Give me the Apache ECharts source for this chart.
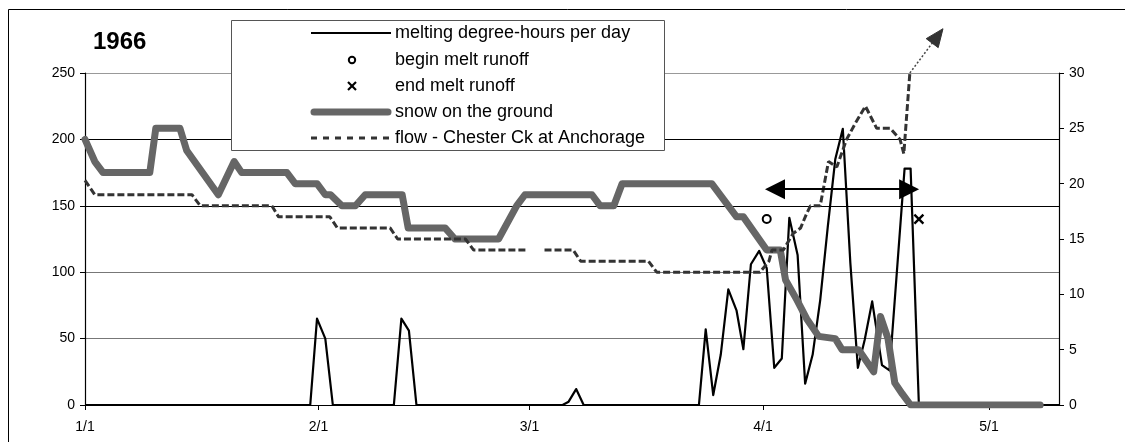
<!DOCTYPE html>
<html><head><meta charset="utf-8">
<script src="https://cdn.jsdelivr.net/npm/echarts@6/dist/echarts.min.js"></script>
<style>html,body{margin:0;padding:0;background:#fff}#c{width:1125px;height:442px}</style>
</head><body><div id="c"></div>
<script>
// ---- data (x = day of year from 1/1, 0-based) ----
const chartTitle = '1966';
const monthTickDays = [0, 31, 59, 90, 120];
const monthTickLabels = ['1/1', '2/1', '3/1', '4/1', '5/1'];
const seriesNames = ['melting degree-hours per day', 'begin melt runoff', 'end melt runoff',
  'snow on the ground', 'flow - Chester Ck at Anchorage'];

// melting degree-hours per day (left axis)
const meltDegreeHours = [
  [0, 0], [29.9, 0], [30.8, 65], [31.9, 50], [32.9, 0],
  [41.0, 0], [42.0, 65], [43.0, 56], [44.0, 0],
  [63.4, 0], [64.2, 2.5], [65.2, 12], [66.2, 0],
  [81.5, 0], [82.4, 57], [83.4, 7.5], [84.4, 38], [85.4, 87], [86.5, 71], [87.4, 42],
  [88.4, 106], [89.5, 116], [90.5, 103], [91.5, 28], [92.5, 35], [93.5, 141], [94.6, 113],
  [95.6, 16], [96.6, 38], [97.6, 79], [98.6, 134], [99.6, 185], [100.6, 208], [101.6, 107],
  [102.6, 28], [103.5, 49], [104.5, 78], [105.8, 30], [106.8, 26], [108.8, 178], [109.6, 178],
  [110.7, 0], [129.3, 0]
];
// snow on the ground (right axis)
const snowOnGround = [
  [0, 24], [1.3, 22], [2.4, 21], [8.6, 21], [9.4, 25], [12.6, 25], [13.5, 23], [17.7, 19],
  [19.8, 22], [20.8, 21], [26.8, 21], [27.9, 20], [30.8, 20], [31.9, 19], [32.6, 19], [34.1, 18],
  [35.9, 18], [37.2, 19], [42.1, 19], [42.9, 16], [47.8, 16], [49.1, 15], [54.9, 15], [57.3, 18],
  [58.4, 19], [67.3, 19], [68.4, 18], [70.2, 18], [71.3, 20], [83.2, 20], [86.5, 17], [87.4, 17],
  [90.5, 14], [92.3, 14], [93.0, 11.3], [94.5, 9.5], [95.8, 7.8], [97.4, 6.2], [99.6, 6],
  [100.5, 5], [102.7, 5], [104.7, 3], [105.6, 8], [106.6, 6], [107.5, 2], [108.5, 1],
  [109.6, 0], [126.8, 0]
];
// flow - Chester Ck at Anchorage (right axis)
const flowChester = [
  [0, 20.3], [1.3, 19], [14.2, 19], [15.3, 18], [24.8, 18], [25.7, 17], [32.5, 17], [33.5, 16],
  [40.5, 16], [41.5, 15], [50.5, 15], [51.6, 14], [58.6, 14], [59.8, null], [61.0, 14], [64.8, 14],
  [65.8, 13], [74.8, 13], [75.9, 12], [89.6, 12], [90.8, 13], [91.2, 14], [92.7, 14], [94.0, 15.5],
  [95.0, 16], [95.8, 17.3], [96.3, 18], [97.6, 18], [98.7, 22], [99.8, 21.5], [101.1, 24],
  [102.3, 25.5], [103.6, 27], [105.1, 25], [106.9, 25], [108.2, 24], [108.7, 22.7], [109.5, 30]
];
const beginMeltRunoff = [[90.5, 140]];
const endMeltRunoff = [[110.7, 140]];
const runoffSpan = [[91.6, 162.5], [109.4, 162.5]];      // left-axis units
const flowOffScale = [[109.5, 30], [113.9, 34]];         // right-axis units

// ---- chart ----
const FONT = 'Liberation Sans, Arial, sans-serif';
const chart = echarts.init(document.getElementById('c'), null, {renderer: 'canvas'});

const legendRows = [33, 60, 86, 112, 138];
const legendGraphic = [
  {id: 'frame', type: 'rect', silent: true, z: 0, shape: {x: 8.5, y: 9.5, width: 1130, height: 440},
   style: {fill: 'none', stroke: '#000', lineWidth: 1}},
  {id: 'lgBox', type: 'rect', silent: true, z: 50, shape: {x: 231.5, y: 20.5, width: 433, height: 130},
   style: {fill: '#fff', stroke: '#555', lineWidth: 1}},
  {id: 'lg0', type: 'line', z: 51, silent: true, shape: {x1: 311, y1: legendRows[0], x2: 391, y2: legendRows[0]},
   style: {stroke: '#000', lineWidth: 2}},
  {id: 'lg1', type: 'circle', z: 51, silent: true, shape: {cx: 352, cy: legendRows[1], r: 3.2},
   style: {fill: '#fff', stroke: '#000', lineWidth: 2}},
  {id: 'lg2a', type: 'line', z: 51, silent: true, shape: {x1: 348, y1: legendRows[2] - 4, x2: 356, y2: legendRows[2] + 4},
   style: {stroke: '#000', lineWidth: 2.2}},
  {id: 'lg2b', type: 'line', z: 51, silent: true, shape: {x1: 356, y1: legendRows[2] - 4, x2: 348, y2: legendRows[2] + 4},
   style: {stroke: '#000', lineWidth: 2.2}},
  {id: 'lg3', type: 'line', z: 51, silent: true, shape: {x1: 314, y1: legendRows[3], x2: 388, y2: legendRows[3]},
   style: {stroke: '#666', lineWidth: 7, lineCap: 'round'}},
  {id: 'lg4', type: 'line', z: 51, silent: true, shape: {x1: 311, y1: legendRows[4], x2: 393, y2: legendRows[4]},
   style: {stroke: '#333', lineWidth: 3, lineDash: [6, 6]}}
];
seriesNames.forEach((n, i) => {
  legendGraphic.push({id: 'lgt' + i, type: 'text', z: 52, silent: true, x: 395, y: legendRows[i],
    style: {text: n, fill: '#000', font: '18px ' + FONT, textVerticalAlign: 'middle', verticalAlign: 'middle'}});
});

const option = {
  animation: false,
  backgroundColor: '#fff',
  title: {text: chartTitle, left: 93, top: 30, padding: 0,
    textStyle: {fontFamily: FONT, fontSize: 24, fontWeight: 'bold', color: '#000'}},
  grid: {left: 85, right: 66, top: 73, bottom: 37, containLabel: false},
  xAxis: {
    type: 'value', min: 0, max: 129.3,
    axisLine: {show: true, onZero: false, lineStyle: {color: '#000', width: 1}},
    axisTick: {show: true, length: 5, customValues: monthTickDays, lineStyle: {color: '#000'}},
    axisLabel: {customValues: monthTickDays, margin: 15, color: '#000', fontFamily: FONT, fontSize: 14,
      formatter: v => monthTickLabels[monthTickDays.indexOf(v)] || ''},
    splitLine: {show: false}
  },
  yAxis: [
    {type: 'value', min: 0, max: 250, interval: 50,
     axisLine: {show: true, lineStyle: {color: '#000', width: 1.2}},
     axisTick: {show: true, length: 5, lineStyle: {color: '#000'}},
     axisLabel: {margin: 10, color: '#000', fontFamily: FONT, fontSize: 14},
     splitLine: {show: true, lineStyle: {color: ['#000', '#777', '#777', '#000', '#000', '#999'], width: 1}}},
    {type: 'value', min: 0, max: 30, interval: 5, position: 'right',
     axisLine: {show: true, lineStyle: {color: '#000', width: 1.2}},
     axisTick: {show: true, length: 5, lineStyle: {color: '#000'}},
     axisLabel: {margin: 10, color: '#000', fontFamily: FONT, fontSize: 14},
     splitLine: {show: false}}
  ],
  series: [
    {name: seriesNames[0], type: 'line', yAxisIndex: 0, data: meltDegreeHours, showSymbol: false, symbol: 'none',
     lineStyle: {color: '#000', width: 2.2, join: 'round'}, silent: true, z: 2},
    {name: seriesNames[3], type: 'line', yAxisIndex: 1, data: snowOnGround, showSymbol: false, symbol: 'none',
     lineStyle: {color: '#666', width: 7, cap: 'round', join: 'round'}, silent: true, z: 3},
    {name: seriesNames[4], type: 'line', yAxisIndex: 1, data: flowChester, showSymbol: false, symbol: 'none',
     connectNulls: false,
     lineStyle: {color: '#333', width: 3, type: [7, 3]}, silent: true, z: 4},
    {name: seriesNames[1], type: 'scatter', yAxisIndex: 0, data: beginMeltRunoff, symbol: 'circle', symbolSize: 8,
     itemStyle: {color: '#fff', borderColor: '#000', borderWidth: 2, opacity: 1}, silent: true, z: 5,
     markLine: {silent: true, symbol: ['triangle', 'triangle'], symbolSize: [20, 20],
       label: {show: false}, lineStyle: {color: '#000', width: 2, type: 'solid', opacity: 1},
       itemStyle: {color: '#000', opacity: 1},
       data: [[{coord: runoffSpan[0]}, {coord: runoffSpan[1]}]]}},
    {name: seriesNames[2], type: 'scatter', yAxisIndex: 0, data: endMeltRunoff,
     symbol: 'path://M0,0L10,10M10,0L0,10', symbolSize: 9,
     itemStyle: {color: 'none', borderColor: '#000', borderWidth: 2.4, opacity: 1}, silent: true, z: 5}
  ],
  graphic: legendGraphic
};
chart.setOption(option);

// off-scale flow arrow, positioned through the chart's own scales
const p0 = chart.convertToPixel({xAxisIndex: 0, yAxisIndex: 1}, flowOffScale[0]);
const p1 = chart.convertToPixel({xAxisIndex: 0, yAxisIndex: 1}, flowOffScale[1]);
const dx = p1[0] - p0[0], dy = p1[1] - p0[1], len = Math.hypot(dx, dy);
const ux = dx / len, uy = dy / len, headL = 18, headW = 15;
const base = [p1[0] - ux * headL, p1[1] - uy * headL];
chart.setOption({graphic: legendGraphic.concat([
  {id: 'flowArrowLine', type: 'line', silent: true, z: 10,
   shape: {x1: p0[0], y1: p0[1], x2: base[0], y2: base[1]},
   style: {stroke: '#444', lineWidth: 1.5, lineDash: [2, 2]}},
  {id: 'flowArrowHead', type: 'polygon', silent: true, z: 10,
   shape: {points: [p1, [base[0] + uy * headW / 2, base[1] - ux * headW / 2], [base[0] - uy * headW / 2, base[1] + ux * headW / 2]]},
   style: {fill: '#333', stroke: '#333', lineWidth: 1}}
])});
</script></body></html>
